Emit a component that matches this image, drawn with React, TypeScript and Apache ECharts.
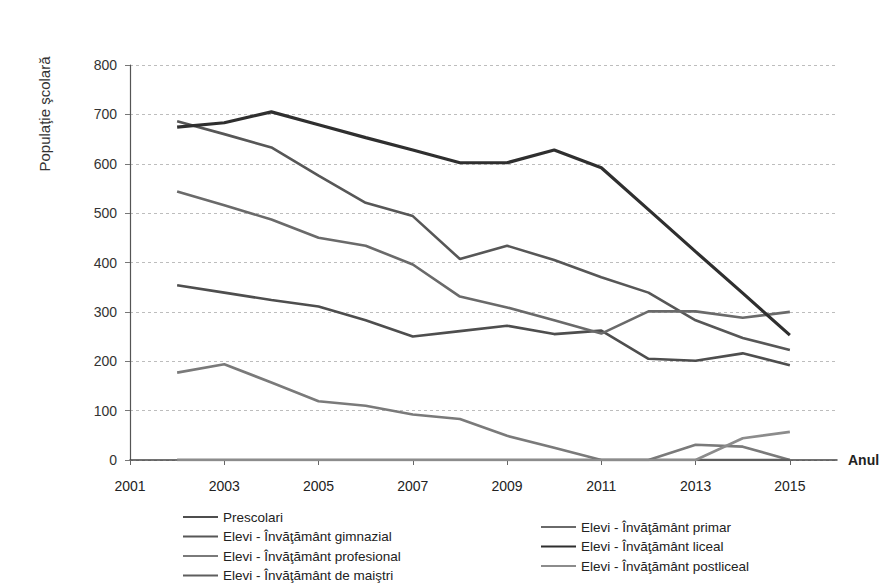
import { useEffect, useRef } from "react";
import * as echarts from "echarts";

// Calendar years on the horizontal axis (2001 sits on the vertical axis, 2016 closes the plot)
const years = [
  "2001", "2002", "2003", "2004", "2005", "2006", "2007", "2008",
  "2009", "2010", "2011", "2012", "2013", "2014", "2015", "2016",
];

// School population per year, 2002 – 2015
const prescolari = [354, 339, 324, 311, 283, 250, 261, 272, 255, 262, 205, 201, 216, 192];
const gimnazial = [686, 660, 633, 576, 521, 494, 407, 434, 405, 370, 339, 283, 247, 223];
const profesional = [177, 194, 157, 119, 110, 92, 83, 49, 25, 0, 0, 31, 27, 0];
const maistri = [0, 0, 0, 0, 0, 0, 0, 0, 0, 0, 0, 0, 0, 0];
const primar = [544, 516, 487, 450, 434, 396, 331, 309, 283, 256, 301, 301, 288, 300];
const liceal = [674, 683, 705, 679, 653, 628, 602, 602, 628, 592, 507, 422, 338, 253];
const postliceal = [0, 0, 0, 0, 0, 0, 0, 0, 0, 0, 0, 0, 44, 57];

const FONT = "'Liberation Sans', Arial, sans-serif";

const N_PRESC = "Prescolari";
const N_GIM = "Elevi - Învăţământ gimnazial";
const N_PROF = "Elevi - Învăţământ profesional";
const N_MAI = "Elevi - Învăţământ de maiştri";
const N_PRIM = "Elevi - Învăţământ primar";
const N_LIC = "Elevi - Învăţământ liceal";
const N_POST = "Elevi - Învăţământ postliceal";

// values start at 2002 and stop at 2015
const onYears = (vals: number[]) => [null, ...vals, null];

export default function App() {
  const ref = useRef<HTMLDivElement>(null);

  useEffect(() => {
    if (!ref.current) return;
    const chart = echarts.init(ref.current, null, { renderer: "svg" });

    const line = (name: string, data: number[], color: string, width = 2.6, z = 2) => ({
      name,
      type: "line",
      data: onYears(data),
      showSymbol: false,
      symbol: "none",
      z,
      lineStyle: { color, width },
      itemStyle: { color },
      emphasis: { disabled: true },
    });

    const legendBase = {
      orient: "vertical",
      icon: "rect",
      itemWidth: 35,
      itemHeight: 2,
      itemGap: 5.5,
      padding: 0,
      selectedMode: false,
      textStyle: { fontFamily: FONT, fontSize: 13.5, color: "#222", lineHeight: 14 },
    };

    chart.setOption({
      animation: false,
      backgroundColor: "#ffffff",
      textStyle: { fontFamily: FONT },
      grid: { left: 130, top: 65, right: 59, bottom: 125, containLabel: false },
      legend: [
        { ...legendBase, left: 183, top: 510, data: [N_PRESC, N_GIM, N_PROF, N_MAI] },
        { ...legendBase, left: 541, top: 520, data: [N_PRIM, N_LIC, N_POST] },
      ],
      graphic: [
        {
          type: "text",
          x: 44,
          y: 114,
          rotation: Math.PI / 2,
          style: {
            text: "Populaţie şcolară",
            fontFamily: FONT,
            fontSize: 15,
            fill: "#333",
            align: "center",
            verticalAlign: "middle",
          },
        },
      ],
      xAxis: {
        type: "category",
        data: years,
        boundaryGap: false,
        name: "Anul",
        nameLocation: "end",
        nameGap: 11,
        nameTextStyle: {
          fontFamily: FONT,
          fontSize: 14,
          fontWeight: "bold",
          color: "#222",
          verticalAlign: "middle",
        },
        axisLine: { lineStyle: { color: "#444", width: 1.5 } },
        axisTick: { show: true, interval: 1, length: 5, lineStyle: { color: "#666" } },
        axisLabel: {
          interval: 1,
          margin: 19,
          fontFamily: FONT,
          fontSize: 14,
          color: "#222",
        },
        splitLine: { show: false },
      },
      yAxis: {
        type: "value",
        min: 0,
        max: 800,
        interval: 100,
        axisLine: { show: true, lineStyle: { color: "#555", width: 1.2 } },
        axisTick: { show: true, length: 5, lineStyle: { color: "#777" } },
        axisLabel: { margin: 13, fontFamily: FONT, fontSize: 14, color: "#333" },
        splitLine: { show: true, lineStyle: { color: "#bdbdbd", width: 1, type: [3, 3] } },
      },
      series: [
        line(N_PRESC, prescolari, "#4e4e4e"),
        line(N_GIM, gimnazial, "#575757"),
        line(N_PROF, profesional, "#7a7a7a"),
        line(N_MAI, maistri, "#5e5e5e"),
        line(N_PRIM, primar, "#6a6a6a"),
        line(N_LIC, liceal, "#2f2f2f", 3.2, 3),
        line(N_POST, postliceal, "#8c8c8c"),
      ],
    });

    return () => chart.dispose();
  }, []);

  return (
    <div
      ref={ref}
      style={{ position: "fixed", left: 0, top: 0, width: 896, height: 585, background: "#fff" }}
    />
  );
}
